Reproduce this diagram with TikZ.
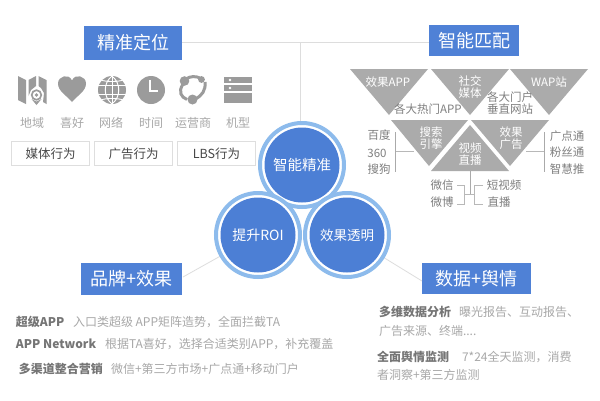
\documentclass[tikz,border=0pt]{standalone}
\usepackage{fontspec}
\setmainfont{Noto Sans CJK SC}
\definecolor{titleblue}{HTML}{4F81D6}
\definecolor{discblue}{HTML}{4C7FD5}
\definecolor{ringblue}{HTML}{8DBBEC}
\definecolor{icongray}{HTML}{9B9B9B}
\definecolor{trigray}{HTML}{ABABAB}
\definecolor{rulegray}{HTML}{DDDDDD}
\definecolor{labelgray}{HTML}{7F7F7F}
\definecolor{softgray}{HTML}{A8A8A8}
\definecolor{boldgray}{HTML}{757575}
\tikzset{
  lab/.style={inner sep=0pt,outer sep=0pt,font=\fontsize{#1}{#1}\selectfont,text height=#1*0.88pt,text depth=#1*0.12pt},
  titlebox/.style={lab=18,fill=titleblue,text=white,anchor=center},
  ring/.style={circle,draw=ringblue,line width=4pt,fill=white,minimum size=84pt,inner sep=0pt},
  disc/.style={circle,fill=discblue,lab=#1,text=white,minimum size=75pt},
  tag/.style={lab=12.5,draw=black!13,line width=.9pt,minimum width=78pt,minimum height=24pt,text=black!72},
  iconlab/.style={lab=12,text=softgray},
  tri/.style={fill=trigray,draw=none},
  onTri/.style={lab=11.5,text=white},
  side/.style={lab=11.5,text=labelgray},
  lead/.style={lab=12,font=\bfseries\fontsize{12}{12}\selectfont,anchor=west,text=boldgray},
  body/.style={lab=12,anchor=west,text=softgray},
  conn/.style={draw=rulegray,line width=.8pt},
  brk/.style={draw=icongray!85,line width=1pt},
  brklight/.style={draw=black!28,line width=1pt}
}
\begin{document}
\begin{tikzpicture}[x=1pt,y=-1pt]
\useasboundingbox (0,0) rectangle (600,400);
\fill[white] (0,0) rectangle (600,400);
% title boxes
\node[titlebox,minimum width=98pt,minimum height=34pt] (t1) at (133,43) {精准定位};
\node[titlebox,minimum width=90pt,minimum height=31pt] (t2) at (474,40.5) {智能匹配};
\node[titlebox,minimum width=101pt,minimum height=32pt] (t3) at (131.5,279) {品牌+效果};
\node[titlebox,minimum width=109pt,minimum height=31pt] (t4) at (476.5,278.5) {数据+舆情};
% circles
\coordinate (c1) at (302,165);
\coordinate (c2) at (258,235);
\coordinate (c3) at (347,235);
\coordinate (jn) at (300,42);
\draw[conn] (t1.east |- jn) -- (t2.west |- jn);
\coordinate (jb) at (300,125);
\draw[conn] (jn) -- (jb);
\coordinate (ln) at (183,277);
\coordinate (rn) at (422,281);
\draw[conn] (ln) -- (c2);
\draw[conn] (rn) -- (c3);
\foreach \c in {c1,c2,c3} \node[ring] at (\c) {};
\node[disc=14.5] (d1) at (c1) {智能精准};
\node[disc=14] (d2) at (c2) {提升ROI};
\node[disc=13.5] (d3) at (c3) {效果透明};
% icons
\begin{scope}[icongray]
 % map
 \fill (18,76) -- (26,80) -- (26,104) -- (18,100) -- cycle;
 \fill (28.5,80) -- (36,76) -- (36,86) -- (31,90) -- (28.5,96) -- cycle;
 \fill (38.5,76) -- (46.5,80) -- (46.5,104) -- (43,102) -- (44,93) -- (41,88) -- (38.5,86) -- cycle;
 \draw[line width=1.7pt] (36.5,95) circle (4.8);
 \fill (36.5,95) circle (1.9);
 \fill (31.5,99) -- (36.5,105) -- (41.5,99) -- (36.5,101.5) -- cycle;
 % heart
 \fill (72,102) .. controls (66,95) and (58,91) .. (58,83.5) .. controls (58,76) and (69,73) .. (72,80.5) .. controls (75,73) and (86,76) .. (86,83.5) .. controls (86,91) and (78,95) .. (72,102) -- cycle;
 % globe
 \fill (112,90) circle (14);
 \begin{scope}
  \draw[white,line width=1pt] (98,85.5) -- (126,85.5) (98,94.5) -- (126,94.5) (112,76) -- (112,104);
  \draw[white,line width=1pt] (112,76) .. controls (103,83) and (103,97) .. (112,104);
  \draw[white,line width=1pt] (112,76) .. controls (121,83) and (121,97) .. (112,104);
  \draw[white,line width=.9pt] (101,80) .. controls (106,82) and (118,82) .. (123,80);
  \draw[white,line width=.9pt] (101,100) .. controls (106,98) and (118,98) .. (123,100);
 \end{scope}
 % clock
 \fill (151,90) circle (14);
 \draw[white,line width=1.5pt] (150,80) -- (150,91) -- (158,91);
 % cycle
 \draw[line width=3pt] (183,84) .. controls (178,92) and (181,97) .. (187,99.5);
 \draw[line width=3pt] (186,79) .. controls (190,76) and (196,76) .. (200,78);
 \draw[line width=3pt] (205,82) .. controls (206,90) and (202,96) .. (195,99);
 \fill (184.5,81) circle (4.8);
 \fill (201.5,79.5) circle (3.4);
 \fill (192.5,99.5) circle (5);
 % server
 \fill (224,77) rectangle (252,83);
 \fill (224,85) rectangle (252,91);
 \fill (224,93) rectangle (252,103);
 \fill[white] (230,80) circle (1.3) (230,88) circle (1.3);
\end{scope}
\node[iconlab] (i1) at (32,123) {地域};
\node[iconlab] (i2) at (72,123) {喜好};
\node[iconlab] (i3) at (111,123) {网络};
\node[iconlab] (i4) at (151,123) {时间};
\node[iconlab] (i5) at (193,123) {运营商};
\node[iconlab] (i6) at (238,123) {机型};
\node[tag] (b1) at (50.5,153.5) {媒体行为};
\node[tag] (b2) at (133.5,153.5) {广告行为};
\node[tag] (b3) at (216.5,153.5) {LBS行为};
% triangles
\fill[tri] (350,69) -- (428,69) -- (389,115) -- cycle;
\fill[tri] (431,69) -- (509,69) -- (470,115) -- cycle;
\fill[tri] (510,69) -- (588,69) -- (549,115) -- cycle;
\fill[tri] (391,120) -- (468,120) -- (429,166) -- cycle;
\fill[tri] (471,120) -- (549,120) -- (510,166) -- cycle;
\fill[tri] (431,171) -- (509,171) -- (470,125) -- cycle;
\node[onTri] (n1) at (388,82) {效果APP};
\node[onTri] (n2a) at (470,81) {社交};
\node[onTri] (n2b) at (470,93) {媒体};
\node[onTri] (n3) at (549,82) {WAP站};
\node[onTri] (n4a) at (431,132) {搜索};
\node[onTri] (n4b) at (431,144) {引擎};
\node[onTri] (n5a) at (470,148) {视频};
\node[onTri] (n5b) at (470,160) {直播};
\node[onTri] (n6a) at (511,132) {效果};
\node[onTri] (n6b) at (511,144) {广告};
\node[side] (s1) at (428,109) {各大热门APP};
\node[side] (s2a) at (510,97) {各大门户};
\node[side] (s2b) at (510,109) {垂直网站};
\node[side] (s3) at (379,135) {百度};
\node[side] (s4) at (377,153) {360};
\node[side] (s5) at (379,169) {搜狗};
\node[side] (s6) at (567,136) {广点通};
\node[side] (s7) at (567,152) {粉丝通};
\node[side] (s8) at (567,169) {智慧推};
\node[side] (s9) at (442,185) {微信};
\node[side] (s10) at (442,202) {微博};
\node[side] (s11) at (504,185) {短视频};
\node[side] (s12) at (499,202) {直播};
% brackets
\coordinate (bl) at (395,151);
\coordinate (br) at (544,151);
\coordinate (bt) at (470,171);
\coordinate (bm) at (470,194);
\draw[brklight] (bl) -- (414,151);
\draw[brk] (395,132) -- (395,172);
\draw[brklight] (526,151) -- (br);
\draw[brk] (544,132) -- (544,172);
\draw[brk] (bt) -- (bm);
\draw[brklight] (457,185) -- (464,185) -- (464,204) -- (457,204);
\draw[brklight] (483,185) -- (474,185) -- (474,204) -- (483,204);
\draw[brklight] (464,194) -- (474,194);
% bottom left text
\node[lead] (p1) at (16,322) {超级APP};
\node[body] (q1) at (73,322) {入口类超级 APP矩阵造势，全面拦截TA};
\node[lead] (p2) at (16,344) {APP Network};
\node[body] (q2) at (105,344) {根据TA喜好，选择合适类别APP，补充覆盖};
\node[lead] (p3) at (19,369) {多渠道整合营销};
\node[body] (q3) at (111,369) {微信+第三方市场+广点通+移动门户};
% bottom right text
\node[lead] (p4) at (379,312) {多维数据分析};
\node[body] (q4) at (459,312) {曝光报告、互动报告、};
\node[body] (q5) at (379,331) {广告来源、终端....};
\node[lead] (p5) at (377,357) {全面舆情监测};
\node[body] (q6) at (462,357) {7*24全天监测，消费};
\node[body] (q7) at (377,375) {者洞察+第三方监测};
\end{tikzpicture}
\end{document}
